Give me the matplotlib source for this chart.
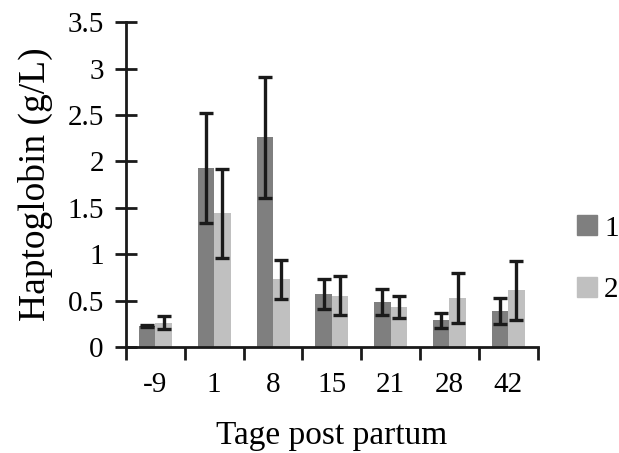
import matplotlib
matplotlib.use("Agg")
import matplotlib.pyplot as plt
import numpy as np
from matplotlib.patches import Patch

days = ["-9", "1", "8", "15", "21", "28", "42"]
group1 = [0.23, 1.93, 2.26, 0.57, 0.48, 0.29, 0.39]
group1_err = [0.01, 0.59, 0.65, 0.16, 0.14, 0.08, 0.14]
group2 = [0.26, 1.44, 0.73, 0.55, 0.43, 0.53, 0.61]
group2_err = [0.07, 0.48, 0.21, 0.21, 0.12, 0.27, 0.32]
series_names = ["1", "2"]

DARK, LIGHT, INK = "#7f7f7f", "#c0c0c0", "#1a1a1a"
plt.rcParams["font.family"] = ["Liberation Serif", "DejaVu Serif"]

fig = plt.figure(figsize=(6.19, 4.53), dpi=100)
ax = fig.add_axes([0.2036, 0.234, 0.665, 0.717])

x = np.arange(len(days))
w = 0.28
ekw = dict(ecolor=INK, elinewidth=2.4, capsize=4.7, capthick=2.4)
ax.bar(x - w / 2, group1, w, yerr=group1_err, color=DARK, error_kw=ekw, zorder=2)
ax.bar(x + w / 2, group2, w, yerr=group2_err, color=LIGHT, error_kw=ekw, zorder=2)

ax.set_xlim(-0.5, len(days) - 0.5)
ax.set_ylim(0, 3.5)
for s in ("top", "right"):
    ax.spines[s].set_visible(False)
for s in ("left", "bottom"):
    ax.spines[s].set_color(INK)
    ax.spines[s].set_linewidth(2)

ax.set_yticks(np.arange(0, 3.51, 0.5))
ax.set_yticklabels(["0", "0.5", "1", "1.5", "2", "2.5", "3", "3.5"])
ax.tick_params(axis="y", direction="inout", length=16, width=2, color=INK,
               labelsize=21, pad=8)
ax.set_xticks(x)
ax.set_xticklabels(days)
ax.tick_params(axis="x", length=0, labelsize=21, pad=18)
ax.set_xticks(np.arange(-0.5, len(days), 1), minor=True)
ax.tick_params(axis="x", which="minor", direction="out", length=9, width=2, color=INK)

ax.set_ylabel("Haptoglobin (g/L)", fontsize=27, labelpad=10)
ax.set_xlabel("Tage post partum", fontsize=24, labelpad=16)

handles = [Patch(color=DARK), Patch(color=LIGHT)]
fig.legend(handles, series_names, loc="center left",
           bbox_to_anchor=(577 / 619, 1 - 259 / 453), borderpad=0,
           borderaxespad=0, frameon=False, fontsize=21, handlelength=0.68,
           handleheight=0.68, handletextpad=0.25, labelspacing=1.2)

fig.savefig("out.png", dpi=100)
